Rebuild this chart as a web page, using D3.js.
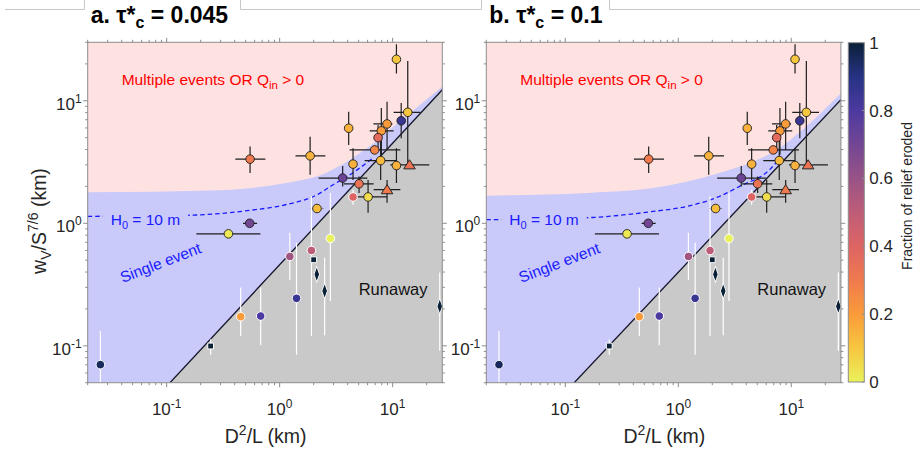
<!DOCTYPE html>
<html><head><meta charset="utf-8">
<script src="https://cdn.jsdelivr.net/npm/d3@7"></script>
<style>
body{margin:0;background:#fff}
svg{display:block}
text{font-family:"Liberation Sans",Arial,Helvetica,sans-serif}
</style>
</head><body>
<svg id="fig" width="920" height="455"></svg>
<script>
// ---------------- data ----------------
// catchments: D^2/L (km), w_V/S^(7/6) (km), fraction of relief eroded
const siteX = [10.8, 13.6, 11.9, 8.92, 7.94, 7.43, 4.08, 6.93, 7.83, 10.8, 14.1, 4.46, 3.61, 5.04, 8.92, 4.46, 6.06,
               0.547, 1.86, 2.14, 0.543, 0.352, 2.81, 1.91, 1.23, 2.0, 2.13, 2.50, 1.41, 0.452, 0.679, 0.245, 0.0259, 26.1];
const siteY = [21.8, 8.05, 6.87, 6.47, 5.68, 5.0, 5.97, 3.97, 3.25, 2.96, 3.0, 3.04, 2.34, 2.1, 1.88, 1.64, 1.64,
               3.34, 3.55, 1.32, 1.0, 0.82, 0.752, 0.600, 0.536, 0.504, 0.383, 0.280, 0.244, 0.173, 0.175, 0.0996, 0.0702, 0.210];
const siteFrac = [0.1, 0.1, 0.85, 0.2, 0.2, 0.37, 0.15, 0.27, 0.13, 0.15, 0.33, 0.15, 0.72, 0.33, 0.3, 0.4, 0.05,
                  0.3, 0.15, 0.12, 0.7, 0.02, 0.0, 0.5, 0.58, 1, 1, 1, 0.85, 0.2, 0.8, 1, 0.95, 1];
// marker shape: o circle, t triangle, s square, d diamond
const siteShape = ["o","o","o","o","o","o","o","o","o","o","t","o","o","o","t","o","o",
                   "o","o","o","o","o","o","o","o","s","d","d","o","o","o","s","o","d"];
// edge / error bar colour group: k = dark, w = white, g = grey bar with dark edge
const siteEdge = ["k","k","k","k","k","k","k","k","k","k","k","k","k","k","k","w","k",
                  "k","k","g","k","k","w","w","w","w","w","w","w","w","w","w","w","w"];
const xErrLo = [null, 10.2, null, 6.75, 6.26, null, null, 4.16, 5.65, null, 9.55, null, 2.21, 3.68, 6.79, null, 4.84,
                0.405, 1.38, 1.87, 0.474, 0.183, null, null, null, null, null, null, null, null, null, null, null, null];
const xErrHi = [null, 17.6, null, 9.94, 10.2, null, null, 11.7, 10.8, null, 21.1, null, 5.97, 6.79, 11.7, null, 8.92,
                0.747, 2.54, 2.45, 0.631, 0.675, null, null, null, null, null, null, null, null, null, null, null, null];
const yErrLo = [16.7, 3.0, 4.94, 3.97, 3.62, 3.97, 4.36, null, 2.26, 2.13, null, 2.26, 2.0, 1.77, 1.47, 1.42, 1.22,
                2.57, 2.49, null, null, null, 0.232, 0.120, 0.344, null, null, 0.122, 0.0845, 0.120, 0.101, 0.0845, 0.05, 0.091];
const yErrHi = [28.9, 21.1, 9.6, 9.8, 8.73, 6.34, 8.15, null, 4.79, 4.1, null, 4.1, 2.94, 2.41, 2.26, 1.88, 2.26,
                4.23, 5.09, null, null, null, 1.77, 1.66, 0.836, null, null, 0.524, 0.693, 0.299, 0.299, 0.113, 0.132, 0.397];

// regime boundaries for each critical Shields stress
const multiBoundA = [[0.02,1.79],[0.3,1.86],[0.56,1.94],[1.1,2.12],[2.5,2.55],[5.5,3.9],[10.9,6.5],[27.5,13.1]];
const multiBoundB = [[0.02,1.68],[0.154,1.77],[0.6,1.94],[2.3,2.57],[4.6,3.19],[7.4,3.97],[9.8,4.79],[27.5,11.5]];
const h0LineA = [[0.02,1.14],[0.144,1.16],[0.56,1.28],[1.1,1.41],[2.17,1.72],[2.81,2.0],[4.5,2.6],[6.8,3.45]];
const h0LineB = [[0.02,1.07],[0.154,1.11],[0.6,1.25],[1.18,1.37],[2.32,1.66],[3.49,2.0],[6.44,2.74],[7.4,3.15]];
const runawayA = [[0.107,0.05],[27.5,12.3]];
const runawayB = [[0.12,0.05],[27.5,10.2]];

const panelTitles = ["a. \u03c4*", "b. \u03c4*"];
const panelTau = ["0.045", "0.1"];

const xDomain = [0.02, 27.5];
const yDomain = [0.05, 30];
const xMajor = [0.1, 1, 10];
const yMajor = [0.1, 1, 10];

// colour map for fraction of relief eroded
const cmapStops = [0, 0.1, 0.2, 0.3, 0.4, 0.5, 0.6, 0.7, 0.8, 0.9, 1];
const cmapColors = ["#e9f25a","#f6c63f","#f99b3a","#f07a4e","#dd6463","#be5d78","#985386","#734694","#4c3aa0","#263384","#0a2036"];
const cbTicks = [0, 0.2, 0.4, 0.6, 0.8, 1];

// ---------------- drawing ----------------
const svg = d3.select("#fig");
const color = d3.scaleLinear().domain(cmapStops).range(cmapColors).interpolate(d3.interpolateRgb);

const plotW = 354.6, plotTop = 42.3, plotBot = 382.7;
const panels = [
  {x0: 87.7, bound: multiBoundA, h0: h0LineA, run: runawayA},
  {x0: 486.3, bound: multiBoundB, h0: h0LineB, run: runawayB}
];
const axisGrey = "#8c8c8c", textDark = "#262626";
const defs = svg.append("defs");

// title tabs along the top edge
const tabs = svg.append("g").attr("stroke", "#c8c8c8").attr("fill", "none").attr("stroke-width", 1);
tabs.append("path").attr("d", "M5,9.5H84.5V0 M240.5,0V9.5H460");
tabs.append("path").attr("d", "M460,9.5H481.5V0 M609.5,0V9.5H920");

function minorTicks(dom) {
  const out = [];
  for (let e = -3; e <= 3; e++) for (let m = 1; m <= 9; m++) {
    const v = m * Math.pow(10, e);
    if (v >= dom[0] * 0.999 && v <= dom[1] * 1.001) out.push(v);
  }
  return out;
}

function powLabel(sel, v, size, supSize) {
  const e = Math.round(Math.log10(v));
  sel.append("tspan").text("10");
  sel.append("tspan").attr("font-size", supSize).attr("dy", -size * 0.42).text(e);
}

panels.forEach((p, i) => {
  const x = d3.scaleLog().domain(xDomain).range([p.x0, p.x0 + plotW]);
  const y = d3.scaleLog().domain(yDomain).range([plotBot, plotTop]);
  const g = svg.append("g");
  const clipId = "clip" + i;
  defs.append("clipPath").attr("id", clipId).append("rect")
    .attr("x", p.x0).attr("y", plotTop).attr("width", plotW).attr("height", plotBot - plotTop);
  const body = g.append("g").attr("clip-path", `url(#${clipId})`);

  // regime fills
  body.append("rect").attr("x", p.x0).attr("y", plotTop).attr("width", plotW).attr("height", plotBot - plotTop)
    .attr("fill", "#fee2e2");
  body.append("path").datum(p.bound)
    .attr("fill", "#c9c9fa")
    .attr("d", d3.area().x(d => x(d[0])).y0(plotBot).y1(d => y(d[1])).curve(d3.curveMonotoneX));
  const r = p.run;
  const lastX = xDomain[1];
  body.append("path")
    .attr("fill", "#c9c9c9")
    .attr("d", `M${x(r[0][0])},${y(r[0][1])}L${x(r[1][0])},${y(r[1][1])}L${x(lastX)},${plotBot}Z`);
  body.append("line")
    .attr("x1", x(r[0][0])).attr("y1", y(r[0][1])).attr("x2", x(r[1][0])).attr("y2", y(r[1][1]))
    .attr("stroke", "#14142a").attr("stroke-width", 1.3);

  // H0 = 10 m label and dashed contour with a gap behind the label
  const h0Label = body.append("text").attr("x", p.x0 + 23).attr("y", 225)
    .attr("fill", "#1a1aff").attr("font-size", 15.5);
  h0Label.append("tspan").text("H");
  h0Label.append("tspan").attr("font-size", 11).attr("dy", 4).text("0");
  h0Label.append("tspan").attr("dy", -4).text(" = 10 m");
  const bb = h0Label.node().getBBox();
  const maskId = "mask" + i;
  const mask = defs.append("mask").attr("id", maskId).attr("maskUnits", "userSpaceOnUse")
    .attr("x", 0).attr("y", 0).attr("width", 920).attr("height", 455);
  mask.append("rect").attr("x", 0).attr("y", 0).attr("width", 920).attr("height", 455).attr("fill", "#fff");
  mask.append("rect").attr("x", bb.x - 8).attr("y", bb.y - 4).attr("width", bb.width + 16).attr("height", bb.height + 8).attr("fill", "#000");
  body.append("path").datum(p.h0)
    .attr("mask", `url(#${maskId})`)
    .attr("fill", "none").attr("stroke", "#1a1aff").attr("stroke-width", 1.3).attr("stroke-dasharray", "4.5,3")
    .attr("d", d3.line().x(d => x(d[0])).y(d => y(d[1])).curve(d3.curveMonotoneX));

  // regime labels
  const multi = body.append("text").attr("x", p.x0 + 34).attr("y", 85).attr("fill", "#ff0000").attr("font-size", 15.5);
  multi.append("tspan").text("Multiple events OR Q");
  multi.append("tspan").attr("font-size", 11.5).attr("dy", 4).text("in");
  multi.append("tspan").attr("dy", -4).text(" > 0");
  body.append("text").attr("transform", `translate(${p.x0 + 35},${283}) rotate(-21)`)
    .attr("fill", "#1a1aff").attr("font-size", 15.5).text("Single event");
  body.append("text").attr("x", p.x0 + 271).attr("y", 295).attr("fill", "#111").attr("font-size", 16.5).text("Runaway");

  // error bars
  const idx = d3.range(siteX.length);
  const barCol = k => k === "w" ? "#ffffff" : (k === "g" ? "#8a8a8a" : "#1e1e1e");
  idx.forEach(j => {
    if (yErrLo[j] != null) body.append("line")
      .attr("x1", x(siteX[j])).attr("x2", x(siteX[j])).attr("y1", y(yErrLo[j])).attr("y2", y(yErrHi[j]))
      .attr("stroke", barCol(siteEdge[j])).attr("stroke-width", 1.2);
    if (xErrLo[j] != null) body.append("line")
      .attr("y1", y(siteY[j])).attr("y2", y(siteY[j])).attr("x1", x(xErrLo[j])).attr("x2", x(xErrHi[j]))
      .attr("stroke", barCol(siteEdge[j])).attr("stroke-width", 1.2);
  });

  // markers
  const sym = {o: d3.symbolCircle, t: d3.symbolTriangle, s: d3.symbolSquare, d: d3.symbolDiamond};
  const symSize = {o: 58, t: 48, s: 34, d: 42};
  idx.forEach(j => {
    const sh = siteShape[j];
    const m = body.append("path")
      .attr("d", d3.symbol().type(sym[sh]).size(symSize[sh])())
      .attr("fill", color(siteFrac[j]))
      .attr("stroke", siteEdge[j] === "w" ? "#ffffff" : "#1e1e1e")
      .attr("stroke-width", siteEdge[j] === "w" ? 1 : 0.9);
    if (sh === "d") m.attr("transform", `translate(${x(siteX[j])},${y(siteY[j])}) scale(0.8,1.3)`);
    else if (sh === "t") m.attr("transform", `translate(${x(siteX[j])},${y(siteY[j]) + 1}) scale(1.1,1)`);
    else m.attr("transform", `translate(${x(siteX[j])},${y(siteY[j])})`);
  });

  // axes box and outward ticks on all four sides
  const ax = g.append("g").attr("stroke", axisGrey).attr("stroke-width", 1);
  ax.append("rect").attr("x", p.x0).attr("y", plotTop).attr("width", plotW).attr("height", plotBot - plotTop).attr("fill", "none");
  minorTicks(xDomain).forEach(v => {
    const len = xMajor.includes(v) ? 4.5 : 2.5;
    const px = x(v);
    ax.append("line").attr("x1", px).attr("x2", px).attr("y1", plotBot).attr("y2", plotBot + len);
    ax.append("line").attr("x1", px).attr("x2", px).attr("y1", plotTop).attr("y2", plotTop - len);
  });
  minorTicks(yDomain).forEach(v => {
    const len = yMajor.includes(v) ? 4.5 : 2.5;
    const py = y(v);
    ax.append("line").attr("y1", py).attr("y2", py).attr("x1", p.x0).attr("x2", p.x0 - len);
    ax.append("line").attr("y1", py).attr("y2", py).attr("x1", p.x0 + plotW).attr("x2", p.x0 + plotW + len);
  });

  // tick labels
  xMajor.forEach(v => {
    const t = g.append("text").attr("x", x(v)).attr("y", 415).attr("text-anchor", "middle")
      .attr("fill", textDark).attr("font-size", 17);
    powLabel(t, v, 17, 12);
  });
  yMajor.forEach(v => {
    const t = g.append("text").attr("x", p.x0 - 6).attr("y", y(v) + 9).attr("text-anchor", "end")
      .attr("fill", textDark).attr("font-size", 17);
    powLabel(t, v, 17, 12);
  });

  // axis labels
  const xl = g.append("text").attr("x", p.x0 + 178).attr("y", 443).attr("text-anchor", "middle")
    .attr("fill", textDark).attr("font-size", 19.5);
  xl.append("tspan").text("D");
  xl.append("tspan").attr("font-size", 14).attr("dy", -8).text("2");
  xl.append("tspan").attr("dy", 8).text("/L (km)");

  // panel title
  const tt = g.append("text").attr("x", p.x0 + 3).attr("y", 23).attr("font-size", 23).attr("font-weight", "bold").attr("fill", "#000");
  tt.append("tspan").text(panelTitles[i]);
  tt.append("tspan").attr("font-size", 16).attr("dy", 5).text("c");
  tt.append("tspan").attr("dy", -5).text(" = " + panelTau[i]);
});

// y axis label (left panel only)
const yl = svg.append("text").attr("transform", "translate(46,221) rotate(-90)").attr("text-anchor", "middle")
  .attr("fill", textDark).attr("font-size", 19.5);
yl.append("tspan").text("w");
yl.append("tspan").attr("font-size", 14).attr("dy", 5).text("V");
yl.append("tspan").attr("dy", -5).text("/S");
yl.append("tspan").attr("font-size", 14).attr("dy", -8).text("7/6");
yl.append("tspan").attr("dy", 8).text(" (km)");

// colour bar
const cbX = 848.3, cbW = 16, cbTop = 42.7, cbBot = 382;
const grad = defs.append("linearGradient").attr("id", "cbGrad").attr("x1", 0).attr("y1", 1).attr("x2", 0).attr("y2", 0);
d3.range(0, 1.0001, 0.05).forEach(v => grad.append("stop").attr("offset", v).attr("stop-color", color(v)));
svg.append("rect").attr("x", cbX).attr("y", cbTop).attr("width", cbW).attr("height", cbBot - cbTop)
  .attr("fill", "url(#cbGrad)").attr("stroke", axisGrey).attr("stroke-width", 1);
const cbScale = d3.scaleLinear().domain([0, 1]).range([cbBot, cbTop]);
cbTicks.forEach(v => {
  svg.append("line").attr("x1", cbX + cbW).attr("x2", cbX + cbW - 2.5).attr("y1", cbScale(v)).attr("y2", cbScale(v))
    .attr("stroke", axisGrey);
  svg.append("text").attr("x", cbX + 21).attr("y", cbScale(v) + 6).attr("font-size", 17).attr("fill", textDark).text(v);
});
svg.append("text").attr("transform", "translate(912,196) rotate(-90)").attr("text-anchor", "middle")
  .attr("font-size", 14).attr("fill", textDark).text("Fraction of relief eroded");
</script>
</body></html>
